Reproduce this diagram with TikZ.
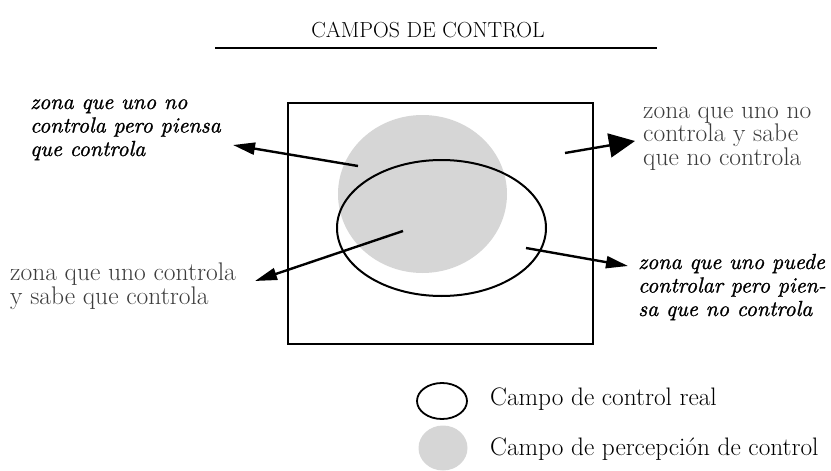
\documentclass[tikz,border=0pt]{standalone}
\usepackage{fontspec}
\usetikzlibrary{arrows.meta,shapes.geometric}
\newfontface\semit{lmroman10-italic.otf}[FakeBold=1.1]
\definecolor{perc}{RGB}{214,214,214}
\definecolor{lbl}{RGB}{60,60,60}
\begin{document}
\begin{tikzpicture}[x=1pt,y=-1pt,
  upl/.style={anchor=base west, inner sep=0pt, align=left, text=lbl, font=\fontsize{25.5}{23.5}\selectfont},
  itl/.style={anchor=base west, inner sep=0pt, align=left, font=\semit\fontsize{21.8}{23.5}\selectfont},
  leg/.style={anchor=base west, inner sep=0pt, font=\fontsize{25.3}{24}\selectfont},
  arr/.style={line width=2.4pt, -{Triangle[length=22pt,width=12pt]}},
  bigarr/.style={line width=2.4pt, -{Triangle[length=26pt,width=24pt]}},
]
\useasboundingbox (0,0) rectangle (831,471);
% title
\node[anchor=base, inner sep=0pt, font=\fontsize{21.8}{22}\selectfont] (title) at (428,37) {CAMPOS DE CONTROL};
\coordinate (rl) at (215,48);
\coordinate (rr) at (657,48);
\draw[line width=1.6pt] (rl) -- (rr);
% frame and fields
\node[draw, line width=2pt, minimum width=305pt, minimum height=241pt, inner sep=0pt] (box) at (440.5,223.5) {};
\node[ellipse, fill=perc, minimum width=169pt, minimum height=158pt, inner sep=0pt] (percf) at (422.5,194) {};
\node[ellipse, draw, line width=2pt, minimum width=209pt, minimum height=136pt, inner sep=0pt] (realf) at (441.5,228) {};
% labels (base anchor = baseline of last line)
\node[itl] (ul) at (30,156) {zona que uno no\\controla pero piensa\\que controla};
\node[upl] (ur) at (643,165) {zona que uno no\\controla y sabe\\que no controla};
\node[upl] (ll) at (10,304) {zona que uno controla\\y sabe que controla};
\node[itl] (lr) at (638,316) {zona que uno puede\\controlar pero pien-\\sa que no controla};
% arrows
\coordinate (s1) at (358,166); \coordinate (t1) at (233,145);
\coordinate (s2) at (403,231); \coordinate (t2) at (255,281);
\coordinate (s3) at (565,153); \coordinate (t3) at (635,141);
\coordinate (s4) at (526,248); \coordinate (t4) at (628,266);
\draw[arr] (s1) -- (t1);
\draw[arr] (s2) -- (t2);
\draw[bigarr] (s3) -- (t3);
\draw[arr] (s4) -- (t4);
% legend
\node[ellipse, draw, line width=1.8pt, minimum width=50pt, minimum height=36pt, inner sep=0pt] (legreal) at (442,401) {};
\node[ellipse, fill=perc, minimum width=49pt, minimum height=45pt, inner sep=0pt] (legperc) at (443,448) {};
\node[leg] (legt1) at (490,405) {Campo de control real};
\node[leg] (legt2) at (490,455) {Campo de percepción de control};
\end{tikzpicture}
\end{document}
